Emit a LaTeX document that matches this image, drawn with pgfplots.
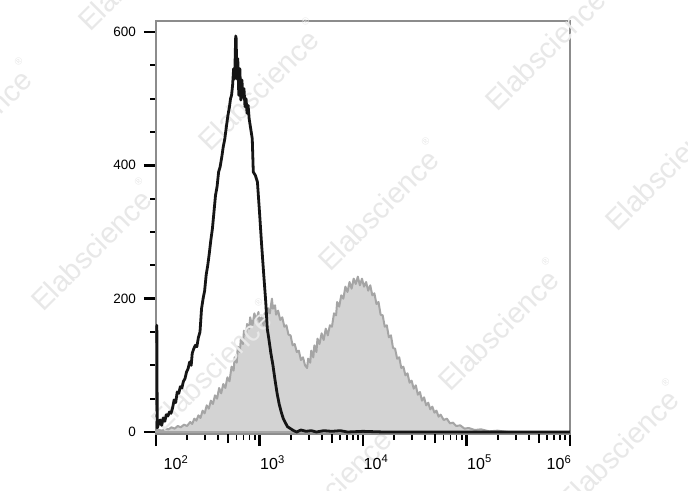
\documentclass[border=0pt]{standalone}
\usepackage{pgfplots}
\pgfplotsset{compat=1.18}
\usepackage{pgfplotstable}
\usepackage{fontspec}
\setmainfont{Liberation Sans}
\definecolor{framegray}{HTML}{8C8C8C}
\definecolor{fillgray}{HTML}{D3D3D3}
\definecolor{linegray}{HTML}{A5A5A5}
\definecolor{wm}{HTML}{E8E8E8}
\definecolor{curveblack}{HTML}{151515}
\newcommand\tl[2]{\makebox[0pt]{\hspace*{#1pt}\hspace*{#1pt}10\textsuperscript{#2}}}
\newcommand\wmtext{{\fontsize{29}{29}\selectfont Elabscience\raisebox{0.75em}{\fontsize{10}{10}\selectfont ®}}}

\pgfplotstableread{
lx y
2.00 2
2.03 3
2.06 2
2.09 5
2.12 4
2.15 7
2.18 5
2.21 9
2.24 7
2.27 11
2.30 9
2.33 15
2.35 12
2.37 20
2.39 17
2.41 25
2.43 21
2.45 32
2.47 28
2.49 40
2.51 35
2.53 47
2.55 42
2.57 55
2.59 50
2.61 66
2.63 58
2.65 72
2.67 66
2.69 82
2.71 76
2.73 98
2.75 92
2.76 112
2.78 104
2.79 128
2.81 120
2.82 140
2.84 132
2.85 152
2.87 146
2.88 162
2.90 155
2.91 172
2.93 158
2.95 178
2.97 168
2.99 180
3.00 165
3.02 172
3.04 160
3.05 178
3.07 170
3.08 186
3.10 178
3.12 200
3.13 185
3.15 190
3.16 176
3.18 182
3.20 168
3.22 172
3.24 158
3.26 160
3.28 146
3.30 145
3.32 130
3.34 132
3.36 120
3.38 122
3.40 108
3.42 112
3.44 100
3.46 96
3.47 110
3.49 104
3.50 122
3.52 112
3.53 130
3.55 120
3.56 140
3.58 132
3.60 148
3.62 138
3.64 155
3.66 145
3.68 160
3.70 158
3.72 178
3.74 175
3.75 195
3.77 188
3.79 205
3.81 200
3.83 218
3.85 210
3.87 225
3.89 215
3.91 230
3.93 222
3.95 233
3.97 220
3.99 230
4.01 218
4.03 225
4.05 212
4.07 220
4.09 205
4.11 208
4.13 192
4.15 195
4.17 176
4.19 175
4.21 158
4.23 160
4.25 142
4.27 145
4.29 126
4.31 125
4.33 110
4.35 112
4.37 96
4.39 98
4.41 85
4.43 88
4.45 74
4.47 77
4.49 65
4.51 70
4.53 56
4.55 60
4.57 47
4.59 52
4.61 40
4.63 44
4.65 34
4.67 38
4.69 29
4.71 32
4.73 23
4.75 26
4.78 18
4.81 20
4.84 13
4.87 14
4.90 9
4.94 10
4.98 5
5.02 6
5.08 3
5.14 4
5.22 1
5.30 2
5.40 0
6.00 0
}\graydata

\pgfplotstableread{
lx y
2.000 160
2.008 160
2.012 6
2.025 12
2.04 18
2.055 10
2.07 21
2.085 16
2.10 26
2.115 24
2.13 30
2.145 28
2.16 36
2.175 48
2.19 44
2.205 60
2.22 58
2.235 68
2.25 66
2.265 76
2.28 80
2.295 90
2.31 95
2.325 105
2.34 100
2.35 118
2.365 125
2.38 130
2.395 128
2.41 142
2.425 150
2.44 185
2.455 200
2.47 212
2.485 236
2.50 250
2.515 268
2.53 288
2.545 305
2.56 330
2.575 355
2.59 368
2.605 390
2.62 398
2.635 412
2.65 428
2.665 440
2.68 458
2.695 475
2.71 488
2.72 500
2.73 505
2.74 520
2.75 545
2.76 530
2.77 594
2.775 590
2.78 530
2.79 560
2.80 505
2.81 545
2.82 498
2.83 528
2.84 502
2.85 515
2.86 488
2.87 500
2.88 478
2.89 490
2.90 470
2.915 455
2.93 440
2.94 390
2.96 385
2.98 375
3.00 330
3.02 282
3.04 238
3.06 196
3.075 155
3.09 140
3.11 118
3.13 100
3.15 78
3.17 58
3.19 42
3.21 30
3.23 20
3.25 14
3.27 8
3.30 5
3.33 2
3.36 0
3.40 3
3.45 1
3.50 2
3.55 0
3.62 2
3.70 1
3.78 2
3.85 0
4.00 1
4.20 0
6.00 0
}\blackdata

\pgfplotsset{
  common/.style={
    at={(156pt,56pt)}, anchor=south west,
    scale only axis, width=414pt, height=413pt,
    xmin=2, xmax=6, ymin=-3, ymax=616.5,
    clip=false,
  }
}

\begin{document}
\begin{tikzpicture}
\useasboundingbox[fill=white] (0,0) rectangle (688pt,490pt);
\foreach \cx/\cy in {331/5} {
  \node[text=wm, rotate=45, inner sep=0pt] at (\cx pt,\cy pt) {\wmtext};
}
\begin{axis}[common,
  axis line style={draw=framegray, line width=1.2pt},
  tick align=outside,
  xtick pos=bottom, ytick pos=left,
  xtick={2,3,4,5,6},
  xticklabels={\tl{20}{2},\tl{13}{3},\tl{13}{4},\tl{13}{5},\tl{-11}{6}},
  minor xtick={2.30103,2.47712,2.60206,2.77815,2.84510,2.90309,2.95424,
               3.30103,3.47712,3.60206,3.77815,3.84510,3.90309,3.95424,
               4.30103,4.47712,4.60206,4.77815,4.84510,4.90309,4.95424,
               5.30103,5.47712,5.60206,5.77815,5.84510,5.90309,5.95424},
  extra x ticks={2.69897,3.69897,4.69897,5.69897},
  extra x tick labels={},
  extra x tick style={major tick length=9pt, every major tick/.append style={line width=2pt}},
  ytick={0,200,400,600},
  yticklabels={0,200,400,600},
  minor ytick={50,100,150,250,300,350,450,500,550},
  major tick length=12pt, minor tick length=6pt,
  every major tick/.append style={black, line width=2.6pt},
  every minor tick/.append style={black, line width=1.8pt},
  xticklabel style={anchor=north, inner sep=0pt, yshift=-9pt, font=\fontsize{16}{18}\selectfont},
  yticklabel style={anchor=east, inner sep=0pt, xshift=-8pt, font=\fontsize{13.5}{15}\selectfont},
]
\addplot[draw=linegray, line width=2pt, fill=fillgray, line join=round] table[x=lx, y=y] {\graydata} \closedcycle;
\end{axis}
\foreach \cx/\cy in {138/525, 258/405, 545/445, -29/365, 378/285, 665/325, 91/245, 498/165, 211/125, 618/45} {
  \node[text=wm, rotate=45, inner sep=0pt] at (\cx pt,\cy pt) {\wmtext};
}
\begin{axis}[common, hide axis]
\addplot[draw=curveblack, line width=2.8pt, line join=round] table[x=lx, y=y] {\blackdata};
\end{axis}
\end{tikzpicture}
\end{document}
